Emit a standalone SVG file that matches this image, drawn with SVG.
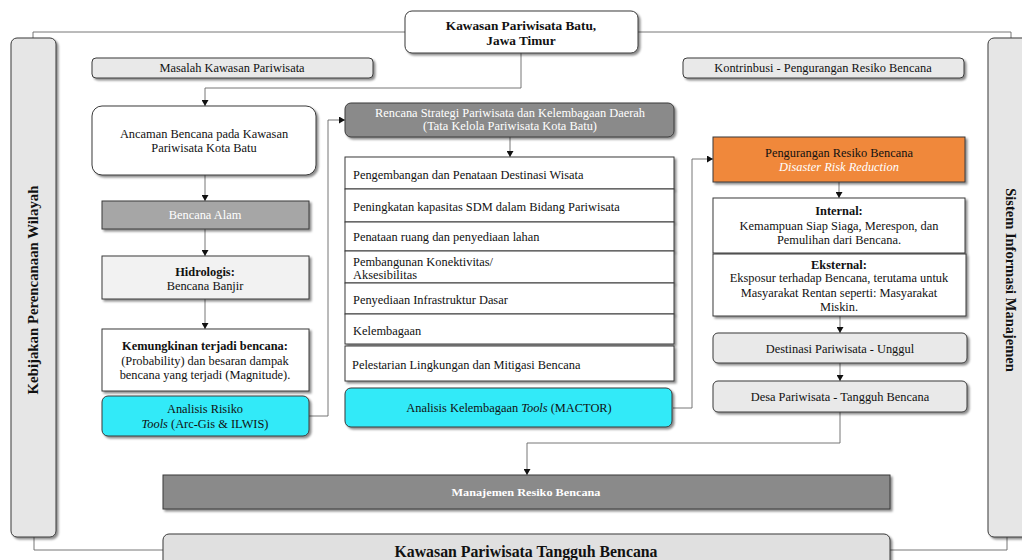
<svg xmlns="http://www.w3.org/2000/svg" width="1022" height="560" viewBox="0 0 1022 560">
<defs>
<filter id="sh" x="-10%" y="-20%" width="120%" height="150%">
<feDropShadow dx="2" dy="2" stdDeviation="1.2" flood-color="#000" flood-opacity="0.45"/>
</filter>
<marker id="ar" markerWidth="7" markerHeight="7" refX="6" refY="3.5" orient="auto" markerUnits="userSpaceOnUse">
<path d="M0,0 L6,3.5 L0,7 Z" fill="#111"/>
</marker>
</defs>
<style>
.t{font-family:"Liberation Serif","Times New Roman",serif;font-size:12.4px;fill:#111}
.c{text-anchor:middle}
.b{font-weight:bold}
.w{fill:#fff}
.i{font-style:italic}
.bx{stroke:#3a3a3a;stroke-width:1;filter:url(#sh)}
.ln{fill:none;stroke:#666;stroke-width:0.9}
</style>
<rect width="1022" height="560" fill="#fff"/>

<g id="connectors">
<path class="ln" d="M33,38 V32 H405"/>
<path class="ln" d="M638,32 H1011 V38"/>
<path class="ln" d="M34,537 V550 H163"/>
<path class="ln" d="M890,550 H1007 V537"/>
<path class="ln" d="M521,53 V88 H205 V106" marker-end="url(#ar)"/>
<path class="ln" d="M205,175 V201" marker-end="url(#ar)"/>
<path class="ln" d="M205,229 V256" marker-end="url(#ar)"/>
<path class="ln" d="M205,299 V329" marker-end="url(#ar)"/>
<path class="ln" d="M309,416 H328 V120 H345" marker-end="url(#ar)"/>
<path class="ln" d="M510,137 V157" marker-end="url(#ar)"/>
<path class="ln" d="M673,408 H692 V159 H713" marker-end="url(#ar)"/>
<path class="ln" d="M839,182 V198" marker-end="url(#ar)"/>
<path class="ln" d="M840,316 V333" marker-end="url(#ar)"/>
<path class="ln" d="M840,363 V381" marker-end="url(#ar)"/>
<path class="ln" d="M840,412 V443 H527 V475" marker-end="url(#ar)"/>
</g>

<g id="panel-left">
<rect class="bx" x="11" y="38" width="45" height="499" rx="6" fill="#e6e6e6"/>
<text class="t c b" style="font-size:14.8px" transform="translate(38,290) rotate(-90)">Kebijakan Perencanaan Wilayah</text>
</g>
<g id="panel-right">
<rect class="bx" x="988" y="38" width="45" height="499" rx="6" fill="#e6e6e6"/>
<text class="t c b" style="font-size:14.5px" transform="translate(1006,280) rotate(90)">Sistem Informasi Manajemen</text>
</g>

<g id="top">
<rect class="bx" x="405" y="11" width="233" height="42" rx="7" fill="#fff"/>
<text class="t c b" style="font-size:13.3px" x="521" y="30">Kawasan Pariwisata Batu,</text>
<text class="t c b" style="font-size:13.3px" x="521" y="45">Jawa Timur</text>
</g>

<g id="masalah">
<rect class="bx" x="92" y="58" width="281" height="20" rx="4" fill="#e9e9e9"/>
<text class="t c" x="232" y="72">Masalah Kawasan Pariwisata</text>
</g>
<g id="kontribusi">
<rect class="bx" x="683" y="58" width="281" height="20" rx="4" fill="#e9e9e9"/>
<text class="t c" x="823" y="72">Kontrinbusi - Pengurangan Resiko Bencana</text>
</g>

<g id="ancaman">
<rect class="bx" x="92" y="106" width="224" height="69" rx="10" fill="#fff"/>
<text class="t c" x="204" y="138">Ancaman Bencana pada Kawasan</text>
<text class="t c" x="204" y="152">Pariwisata Kota Batu</text>
</g>
<g id="bencana-alam">
<rect class="bx" x="102" y="201" width="207" height="28" fill="#a6a6a6"/>
<text class="t c w" x="205" y="219">Bencana Alam</text>
</g>
<g id="hidrologis">
<rect class="bx" x="102" y="256" width="207" height="43" fill="#f2f2f2"/>
<text class="t c b" x="205" y="276">Hidrologis:</text>
<text class="t c" x="205" y="290">Bencana Banjir</text>
</g>
<g id="kemungkinan">
<rect class="bx" x="102" y="329" width="207" height="62" fill="#fff"/>
<text class="t c b" x="205" y="350">Kemungkinan terjadi bencana:</text>
<text class="t c" x="205" y="365">(Probability) dan besaran dampak</text>
<text class="t c" x="205" y="379">bencana yang terjadi (Magnitude).</text>
</g>
<g id="analisis-risiko">
<rect class="bx" x="102" y="396" width="207" height="40" rx="6" fill="#30eaf8"/>
<text class="t c" x="205" y="413">Analisis Risiko</text>
<text class="t c" x="205" y="428"><tspan class="i">Tools</tspan> (Arc-Gis &amp; ILWIS)</text>
</g>

<g id="rencana">
<rect class="bx" x="345" y="103" width="329" height="34" rx="6" fill="#8a8a8a"/>
<text class="t c w" x="510" y="117">Rencana Strategi Pariwisata dan Kelembagaan Daerah</text>
<text class="t c w" x="510" y="130">(Tata Kelola Pariwisata Kota Batu)</text>
</g>
<g id="list1">
<rect class="bx" x="345" y="157" width="329" height="32" fill="#fff"/>
<text class="t" x="353" y="179">Pengembangan dan Penataan Destinasi Wisata</text>
</g>
<g id="list2">
<rect class="bx" x="345" y="189" width="329" height="33" fill="#fff"/>
<text class="t" x="353" y="211">Peningkatan kapasitas SDM dalam Bidang Pariwisata</text>
</g>
<g id="list3">
<rect class="bx" x="345" y="222" width="329" height="29" fill="#fff"/>
<text class="t" x="353" y="241">Penataan ruang dan penyediaan lahan</text>
</g>
<g id="list4">
<rect class="bx" x="345" y="251" width="329" height="32" fill="#fff"/>
<text class="t" x="353" y="266">Pembangunan Konektivitas/</text>
<text class="t" x="353" y="279">Aksesibilitas</text>
</g>
<g id="list5">
<rect class="bx" x="345" y="283" width="329" height="31" fill="#fff"/>
<text class="t" x="353" y="304">Penyediaan Infrastruktur Dasar</text>
</g>
<g id="list6">
<rect class="bx" x="345" y="314" width="329" height="30" fill="#fff"/>
<text class="t" x="353" y="335">Kelembagaan</text>
</g>
<g id="list7">
<rect class="bx" x="345" y="346" width="329" height="35" fill="#fff"/>
<text class="t" x="352" y="369">Pelestarian Lingkungan dan Mitigasi Bencana</text>
</g>
<g id="analisis-kelembagaan">
<rect class="bx" x="345" y="388" width="327" height="39" rx="6" fill="#30eaf8"/>
<text class="t c" x="509" y="412">Analisis Kelembagaan <tspan class="i">Tools</tspan> (MACTOR)</text>
</g>

<g id="pengurangan">
<rect class="bx" x="713" y="137" width="252" height="45" fill="#f0883a"/>
<text class="t c" x="839" y="157">Pengurangan Resiko Bencana</text>
<text class="t c w i" x="839" y="171">Disaster Risk Reduction</text>
</g>
<g id="internal">
<rect class="bx" x="713" y="198" width="252" height="55" fill="#fff"/>
<text class="t c b" x="839" y="215">Internal:</text>
<text class="t c" x="839" y="230">Kemampuan Siap Siaga, Merespon, dan</text>
<text class="t c" x="839" y="244">Pemulihan dari Bencana.</text>
</g>
<g id="eksternal">
<rect class="bx" x="713" y="254" width="253" height="62" fill="#fff"/>
<text class="t c b" x="839" y="269">Eksternal:</text>
<text class="t c" x="839" y="282">Eksposur terhadap Bencana, terutama untuk</text>
<text class="t c" x="839" y="297">Masyarakat Rentan seperti: Masyarakat</text>
<text class="t c" x="839" y="311">Miskin.</text>
</g>
<g id="destinasi">
<rect class="bx" x="713" y="333" width="254" height="30" rx="5" fill="#e9e9e9"/>
<text class="t c" x="840" y="353">Destinasi Pariwisata - Unggul</text>
</g>
<g id="desa">
<rect class="bx" x="713" y="381" width="254" height="31" rx="5" fill="#e9e9e9"/>
<text class="t c" x="840" y="401">Desa Pariwisata - Tangguh Bencana</text>
</g>

<g id="manajemen">
<rect class="bx" x="163" y="475" width="727" height="34" fill="#8a8a8a"/>
<text class="t c b w" style="font-size:11px" x="526" y="496" textLength="149" lengthAdjust="spacingAndGlyphs">Manajemen Resiko Bencana</text>
</g>
<g id="bottom">
<rect class="bx" x="163" y="534" width="727" height="40" rx="6" fill="#e0e0e0"/>
<text class="t c b" style="font-size:16px" x="526" y="557" textLength="263" lengthAdjust="spacingAndGlyphs">Kawasan Pariwisata Tangguh Bencana</text>
</g>
</svg>
